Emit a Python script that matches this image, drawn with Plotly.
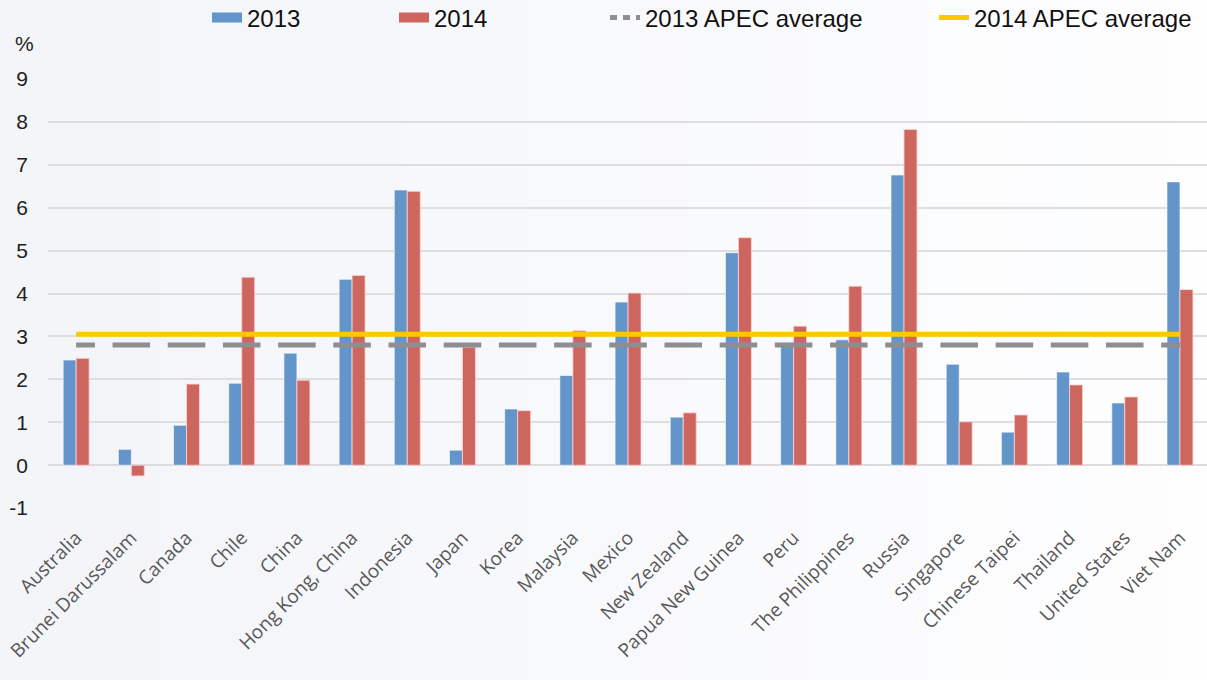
import plotly.graph_objects as go

# economies and growth rates (%)
economies = ["Australia", "Brunei Darussalam", "Canada", "Chile", "China",
             "Hong Kong, China", "Indonesia", "Japan", "Korea", "Malaysia",
             "Mexico", "New Zealand", "Papua New Guinea", "Peru",
             "The Philippines", "Russia", "Singapore", "Chinese Taipei",
             "Thailand", "United States", "Viet Nam"]
v2013 = [2.45, 0.37, 0.93, 1.91, 2.61, 4.33, 6.41, 0.35, 1.31, 2.09,
         3.80, 1.12, 4.95, 2.85, 2.92, 6.76, 2.35, 0.77, 2.17, 1.45, 6.60]
v2014 = [2.49, -0.25, 1.89, 4.38, 1.98, 4.42, 6.38, 2.75, 1.27, 3.13,
         4.01, 1.22, 5.30, 3.24, 4.17, 7.82, 1.01, 1.17, 1.87, 1.59, 4.09]
avg2013 = 2.80
avg2014 = 3.05
y_ticks = [-1, 0, 1, 2, 3, 4, 5, 6, 7, 8, 9]

BLUE = "#6495CA"
RED = "#CD665F"
GREY = "#8E8E8E"
YELLOW = "#FFC800"

idx = list(range(len(economies)))
last = idx[-1]

fig = go.Figure()

fig.add_trace(go.Bar(x=idx, y=v2013, name="2013", marker_color=BLUE,
                     marker_line=dict(color="rgba(255,255,255,0.6)", width=1),
                     showlegend=False))
fig.add_trace(go.Bar(x=idx, y=v2014, name="2014", marker_color=RED,
                     marker_line=dict(color="rgba(255,210,210,0.8)", width=1),
                     showlegend=False))

# dashed 2013 average: one dash centred on every category
gx, gy = [], []
for i in idx:
    gx += [max(i - 0.34, 0), min(i + 0.34, last), None]
    gy += [avg2013, avg2013, None]
fig.add_trace(go.Scatter(x=gx, y=gy, mode="lines", showlegend=False,
                         line=dict(color=GREY, width=5), hoverinfo="skip"))

fig.add_trace(go.Scatter(x=idx, y=[avg2014] * len(idx), mode="lines",
                         showlegend=False, line=dict(color=YELLOW, width=5)))

# legend entries, one legend each so they can be spread like the original
fig.add_trace(go.Scatter(x=[None], y=[None], mode="lines", name="2013",
                         line=dict(color=BLUE, width=14), legend="legend"))
fig.add_trace(go.Scatter(x=[None], y=[None], mode="lines", name="2014",
                         line=dict(color=RED, width=14), legend="legend2"))
fig.add_trace(go.Scatter(x=[None], y=[None], mode="lines", name="2013 APEC average",
                         line=dict(color=GREY, width=5, dash="7px,6px"), legend="legend3"))
fig.add_trace(go.Scatter(x=[None], y=[None], mode="lines", name="2014 APEC average",
                         line=dict(color=YELLOW, width=5), legend="legend4"))


def leg(text_px):
    return dict(xref="container", yref="container", x=(text_px - 41) / 1207,
                xanchor="left", y=1 - 18 / 680, yanchor="middle",
                font=dict(size=24, color="#111"), bgcolor="rgba(0,0,0,0)")


# soft left-to-right background gradient
shapes = []
n = 30
for k in range(n):
    t = k / (n - 1)
    r = int(243 + (254 - 243) * t)
    g = int(245 + (254 - 245) * t)
    b = int(249 + (255 - 249) * t)
    shapes.append(dict(type="rect", xref="paper", yref="paper", layer="below",
                       x0=-0.045 + 1.05 * k / n, x1=-0.045 + 1.05 * (k + 1) / n + 0.002,
                       y0=-0.45, y1=1.2, line_width=0,
                       fillcolor=f"rgb({r},{g},{b})"))

fig.update_layout(
    width=1207, height=680,
    margin=dict(l=48, r=0, t=78, b=171, autoexpand=False),
    paper_bgcolor="#f8f9fb",
    plot_bgcolor="rgba(0,0,0,0)",
    barmode="group", bargap=0.53, bargroupgap=0,
    shapes=shapes,
    font=dict(family="Liberation Sans, Arial, sans-serif", color="#222"),
    legend=leg(248), legend2=leg(435), legend3=leg(646), legend4=leg(975),
    xaxis=dict(range=[-0.51, 20.49], tickmode="array", tickvals=idx, ticktext=economies,
               tickangle=-45, showgrid=False, zeroline=False, showline=False,
               ticklabelstandoff=13,
               tickfont=dict(family="Open Sans, sans-serif", size=19, color="#595959")),
    yaxis=dict(range=[-1.02, 9.02], tickmode="array", tickvals=y_ticks,
               ticktext=[str(v) for v in y_ticks],
               showgrid=True, gridcolor="#dedede", gridwidth=1.5,
               zeroline=True, zerolinecolor="#dcdcdc", zerolinewidth=2,
               ticks="", ticklabelstandoff=19,
               tickfont=dict(size=21, color="#222")),
    annotations=[dict(text="%", xref="paper", yref="paper", x=-0.0207, y=1.081,
                      xanchor="center", yanchor="middle",
                      showarrow=False, font=dict(size=21, color="#222"))],
    hovermode=False,
)

fig.write_html("out.html", config={"displayModeBar": False},
               post_script="document.body.style.margin='0';")
